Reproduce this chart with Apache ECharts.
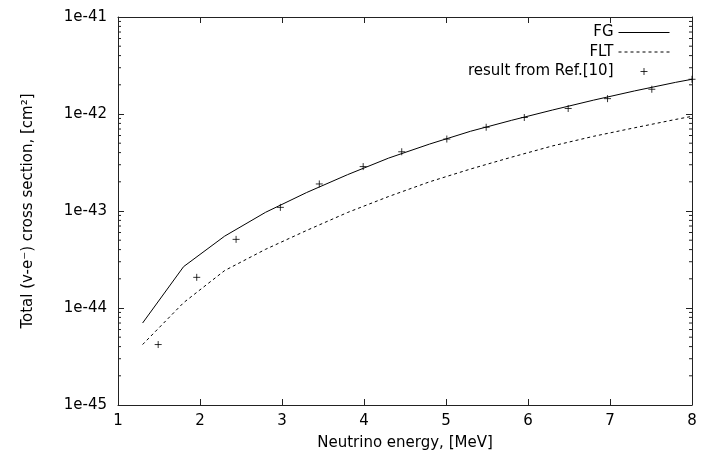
<!DOCTYPE html>
<html>
<head>
<meta charset="utf-8">
<script src="https://cdn.jsdelivr.net/npm/echarts@6/dist/echarts.min.js"></script>
<style>
  html, body { margin: 0; padding: 0; background: #fff; }
  #chart { width: 702px; height: 459px; }
</style>
</head>
<body>
<div id="chart"></div>
<script>
// values (cm^2)
var energyGrid = [1.3, 1.8, 2.3, 2.8, 3.3, 3.8, 4.3, 4.8, 5.3, 5.8, 6.3, 6.8, 7.3, 7.8, 8.0];
var fgValues = [7.0e-45, 2.67e-44, 5.5e-44, 9.7e-44, 1.55e-43, 2.37e-43, 3.51e-43, 4.9e-43,
                6.64e-43, 8.61e-43, 1.10e-42, 1.39e-42, 1.73e-42, 2.12e-42, 2.28e-42];
var fltValues = [4.2e-45, 1.135e-44, 2.43e-44, 4.03e-44, 6.3e-44, 9.66e-44, 1.41e-43, 2.0e-43,
                 2.71e-43, 3.59e-43, 4.69e-43, 5.89e-43, 7.21e-43, 8.79e-43, 9.46e-43];
var refEnergy = [1.49, 1.96, 2.44, 2.98, 3.455, 3.99, 4.46, 5.01, 5.49, 5.955, 6.49, 6.97, 7.51, 8.0];
var refValues = [4.2e-45, 2.07e-44, 5.1e-44, 1.09e-43, 1.9e-43, 2.87e-43, 4.08e-43, 5.52e-43,
                 7.3e-43, 9.2e-43, 1.14e-42, 1.44e-42, 1.8e-42, 2.28e-42];
var yTickLabels = ['1e-45', '1e-44', '1e-43', '1e-42', '1e-41'];
var seriesNames = ['FG', 'FLT', 'result from Ref.[10]'];

// echarts rounds tiny numbers to 0, so the log axis runs in units of 1e-45 cm^2
var yUnit = 1e-45;

// minor tick positions 2..9 in each decade (axis units)
var minorTicks = [];
for (var e = 0; e < 4; e++) {
    for (var m = 2; m <= 9; m++) minorTicks.push([1, m * Math.pow(10, e)]);
}

function pairs(xs, ys) {
    return xs.map(function (x, i) { return [x, ys[i] / yUnit]; });
}

var font = 'DejaVu Sans';
var fs = 15;
var axisColor = '#222';
var crossStyle = { color: 'rgba(0,0,0,0)', borderColor: '#000', borderWidth: 1 };

var chart = echarts.init(document.getElementById('chart'), null, { renderer: 'canvas' });

var option = {
    animation: false,
    backgroundColor: '#fff',
    textStyle: { fontFamily: font, color: '#000' },
    grid: { left: 118, right: 10, top: 17, bottom: 54, containLabel: false },
    legend: {
        // line legend icons always get a symbol in the middle, hide it
        data: [
            { name: seriesNames[0], itemStyle: { opacity: 0 } },
            { name: seriesNames[1], itemStyle: { opacity: 0 } },
            { name: seriesNames[2], itemStyle: crossStyle }
        ],
        orient: 'vertical',
        align: 'right',
        right: 32,
        top: 25,
        padding: 0,
        itemWidth: 51,
        itemHeight: 7,
        itemGap: 4.5,
        selectedMode: false,
        lineStyle: { width: 1 },
        textStyle: { fontFamily: font, fontSize: fs, color: '#000', lineHeight: 15 }
    },
    xAxis: [{
        type: 'value', min: 1, max: 8, interval: 1,
        name: 'Neutrino energy, [MeV]', nameLocation: 'middle', nameGap: 31,
        nameTextStyle: { fontFamily: font, fontSize: fs, color: '#000' },
        axisLine: { onZero: false, lineStyle: { color: axisColor, width: 1 } },
        axisTick: { inside: true, length: 6, lineStyle: { color: axisColor } },
        axisLabel: { margin: 9, fontFamily: font, fontSize: fs, color: '#000' },
        splitLine: { show: false }
    }, {
        type: 'value', min: 1, max: 8, interval: 1, position: 'top',
        axisLine: { onZero: false, lineStyle: { color: axisColor, width: 1 } },
        axisTick: { inside: true, length: 6, lineStyle: { color: axisColor } },
        axisLabel: { show: false },
        splitLine: { show: false }
    }],
    yAxis: [{
        type: 'log', logBase: 10, min: 1, max: 10000, splitNumber: 4,
        name: 'Total (v-e\u207B) cross section, [cm\u00B2]',
        nameLocation: 'middle', nameGap: 82, nameRotate: 90,
        nameTextStyle: { fontFamily: font, fontSize: fs, color: '#000' },
        axisLine: { show: true, onZero: false, lineStyle: { color: axisColor, width: 1 } },
        axisTick: { show: true, inside: true, length: 6, lineStyle: { color: axisColor } },
        axisLabel: {
            margin: 11, fontFamily: font, fontSize: fs, color: '#000',
            formatter: function (v) {
                return yTickLabels[Math.round(Math.log10(v))] || '';
            }
        },
        splitLine: { show: false }
    }, {
        type: 'log', logBase: 10, min: 1, max: 10000, splitNumber: 4, position: 'right',
        axisLine: { show: true, onZero: false, lineStyle: { color: axisColor, width: 1 } },
        axisTick: { show: true, inside: true, length: 6, lineStyle: { color: axisColor } },
        axisLabel: { show: false },
        splitLine: { show: false }
    }],
    series: [{
        name: seriesNames[0],
        type: 'line',
        data: pairs(energyGrid, fgValues),
        symbol: 'none',
        lineStyle: { color: '#000', width: 1 },
        itemStyle: { color: '#000' }
    }, {
        name: seriesNames[1],
        type: 'line',
        data: pairs(energyGrid, fltValues),
        symbol: 'none',
        lineStyle: { color: '#000', width: 1, type: [3, 3] },
        itemStyle: { color: '#000' }
    }, {
        name: seriesNames[2],
        type: 'scatter',
        data: pairs(refEnergy, refValues),
        symbol: 'path://M0,5L10,5M5,0L5,10',
        symbolSize: 7,
        clip: false,
        itemStyle: crossStyle
    }, {
        type: 'custom',
        silent: true,
        clip: false,
        data: minorTicks,
        renderItem: function (params, api) {
            var p = api.coord([1, api.value(1)]);
            var xr = api.coord([8, api.value(1)])[0];
            var st = { stroke: axisColor, lineWidth: 1 };
            return {
                type: 'group',
                children: [
                    { type: 'line', shape: { x1: p[0], y1: p[1], x2: p[0] + 3, y2: p[1] }, style: st },
                    { type: 'line', shape: { x1: xr - 3, y1: p[1], x2: xr, y2: p[1] }, style: st }
                ]
            };
        }
    }]
};

chart.setOption(option);
</script>
</body>
</html>
